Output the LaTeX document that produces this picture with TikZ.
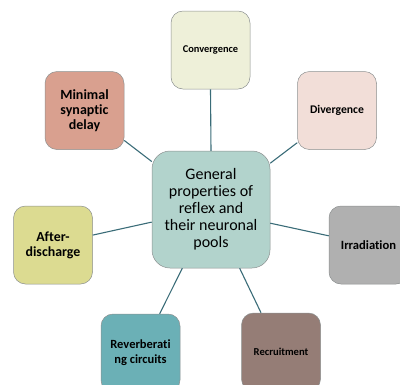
\documentclass[tikz,border=0pt]{standalone}
\usepackage{fontspec}
\setmainfont{Carlito}[Ligatures=NoCommon]
\definecolor{cconv}{HTML}{EEF0D9}
\definecolor{cmin}{HTML}{D9A08F}
\definecolor{cdiv}{HTML}{F2DED8}
\definecolor{ccen}{HTML}{B2D3CC}
\definecolor{caft}{HTML}{DCDB91}
\definecolor{cirr}{HTML}{B0B0B0}
\definecolor{crev}{HTML}{6BB0B6}
\definecolor{crec}{HTML}{957D76}
\definecolor{cline}{HTML}{3A6C78}
\definecolor{cedge}{HTML}{8C9090}
\tikzset{
  leaf/.style={draw=cedge, line width=0.5pt, rounded corners=12pt, minimum width=79pt, minimum height=78pt, inner sep=2pt, align=center, font=\bfseries},
  hub/.style={draw=cedge, line width=0.5pt, rounded corners=18pt, minimum width=118pt, minimum height=117pt, inner sep=2pt, align=center},
  link/.style={draw=cline, line width=1.1pt}
}
\begin{document}
\begin{tikzpicture}[x=1pt,y=-1pt]
\useasboundingbox (0,0) rectangle (400,384);
\clip (0,0) rectangle (400,384);
\node[hub, fill=ccen, font=\fontsize{16}{17}\selectfont] (hub) at (211,209.5) {General\\properties of\\reflex and\\their neuronal\\pools};
\node[leaf, fill=cconv, font=\fontsize{10.4}{12}\selectfont\bfseries] (conv) at (210.5,50) {Convergence};
\node[leaf, fill=cmin, font=\fontsize{14}{15.3}\selectfont\bfseries] (min) at (84.5,110.5) {Minimal\\synaptic\\delay};
\node[leaf, fill=cdiv, font=\fontsize{11.7}{13}\selectfont\bfseries] (div) at (337,110.5) {Divergence};
\node[leaf, fill=caft, font=\fontsize{13.9}{15}\selectfont\bfseries] (aft) at (53,245) {After-\\discharge};
\node[leaf, fill=cirr, font=\fontsize{12.6}{14}\selectfont\bfseries] (irr) at (368.5,245) {Irradiation};
\node[leaf, fill=crev, font=\fontsize{12.5}{15}\selectfont\bfseries] (rev) at (140.5,353) {Reverberati\\ng circuits};
\node[leaf, fill=crec, font=\fontsize{10.6}{12}\selectfont\bfseries] (rec) at (281,352) {Recruitment};
\draw[link] (hub.north) -- (conv.south);
\draw[link] (hub.141.8) -- (min.-37.7);
\draw[link] (hub.38.2) -- (div.-141.4);
\draw[link] (hub.192.9) -- (aft.14);
\draw[link] (hub.-13.8) -- (irr.167.2);
\draw[link] (hub.-116.4) -- (rev.64.6);
\draw[link] (hub.-64.4) -- (rec.117.1);
\end{tikzpicture}
\end{document}
